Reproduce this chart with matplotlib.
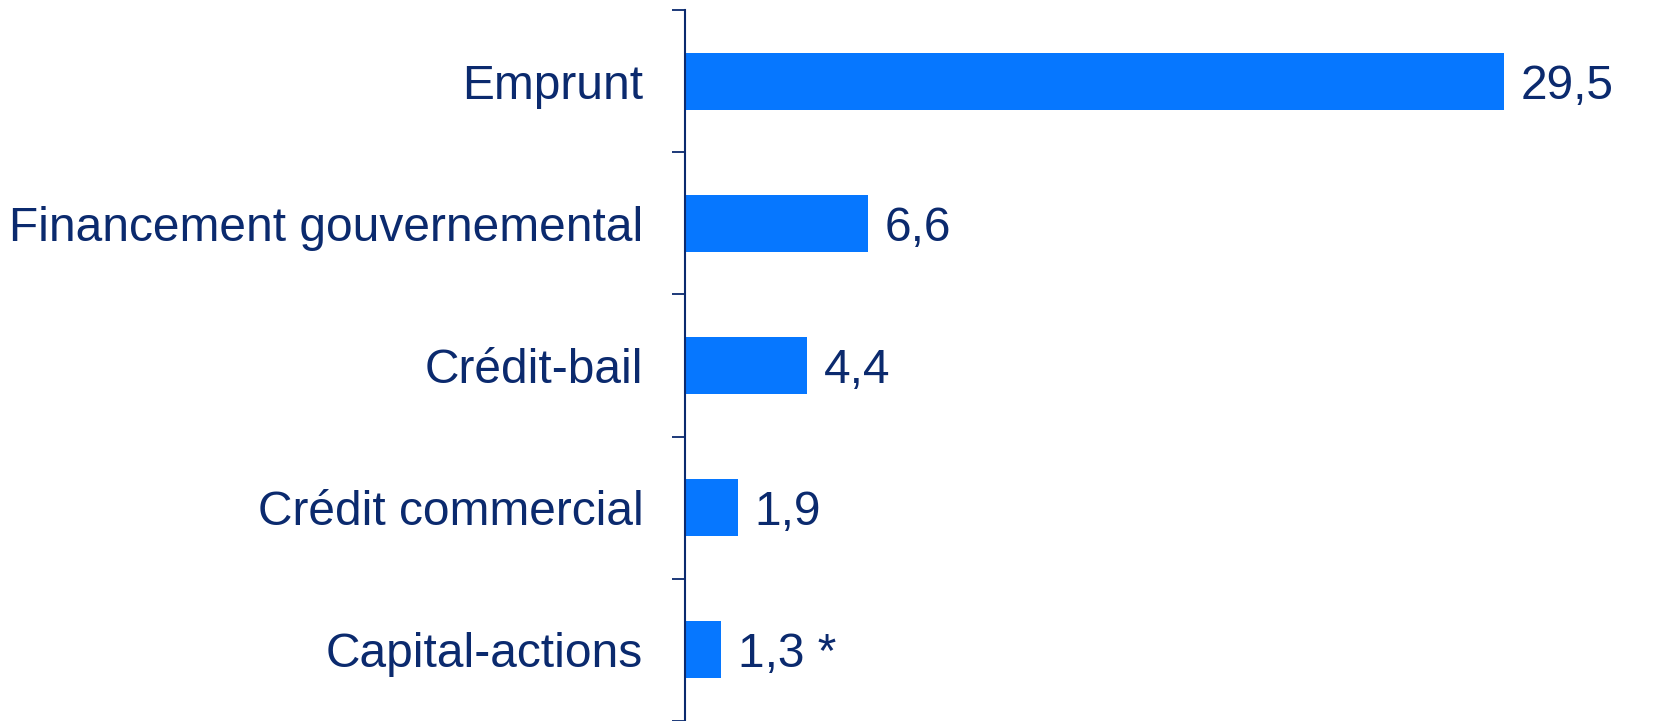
import matplotlib.pyplot as plt

plt.rcParams["font.family"] = ["Liberation Sans", "DejaVu Sans"]

categories = ["Emprunt", "Financement gouvernemental", "Crédit-bail",
              "Crédit commercial", "Capital-actions"]
values = [29.5, 6.6, 4.4, 1.9, 1.3]
value_labels = ["29,5", "6,6", "4,4", "1,9", "1,3 *"]

navy = "#0b2a6e"
bar_color = "#0677ff"

fig = plt.figure(figsize=(16.57, 7.21), dpi=100)
ax = fig.add_axes([685 / 1657, 0, 1 - 685 / 1657, 1 - 10 / 721])

pos = list(range(len(categories)))
ax.barh(pos, values, height=0.4, color=bar_color)
ax.set_ylim(len(categories) - 0.5, -0.5)
ax.set_xlim(0, 35)

for y, v, lab in zip(pos, values, value_labels):
    ax.annotate(lab, (v, y), xytext=(12, 0), textcoords="offset points",
                va="center_baseline", ha="left", fontsize=34.5, color=navy)

# ticks sit between the categories
ax.set_yticks([p - 0.5 for p in pos] + [len(categories) - 0.5])
ax.set_yticklabels([])
ax.set_yticks(pos, minor=True)
ax.set_yticklabels(categories, minor=True, fontsize=34.5, color=navy)
ax.tick_params(axis="y", which="major", length=9.5, width=1.3, color=navy)
ax.tick_params(axis="y", which="minor", length=0, pad=30)
ax.set_xticks([])

for s in ["top", "right", "bottom"]:
    ax.spines[s].set_visible(False)
ax.spines["left"].set_color(navy)
ax.spines["left"].set_linewidth(1.5)

fig.savefig("out.png", dpi=100)
